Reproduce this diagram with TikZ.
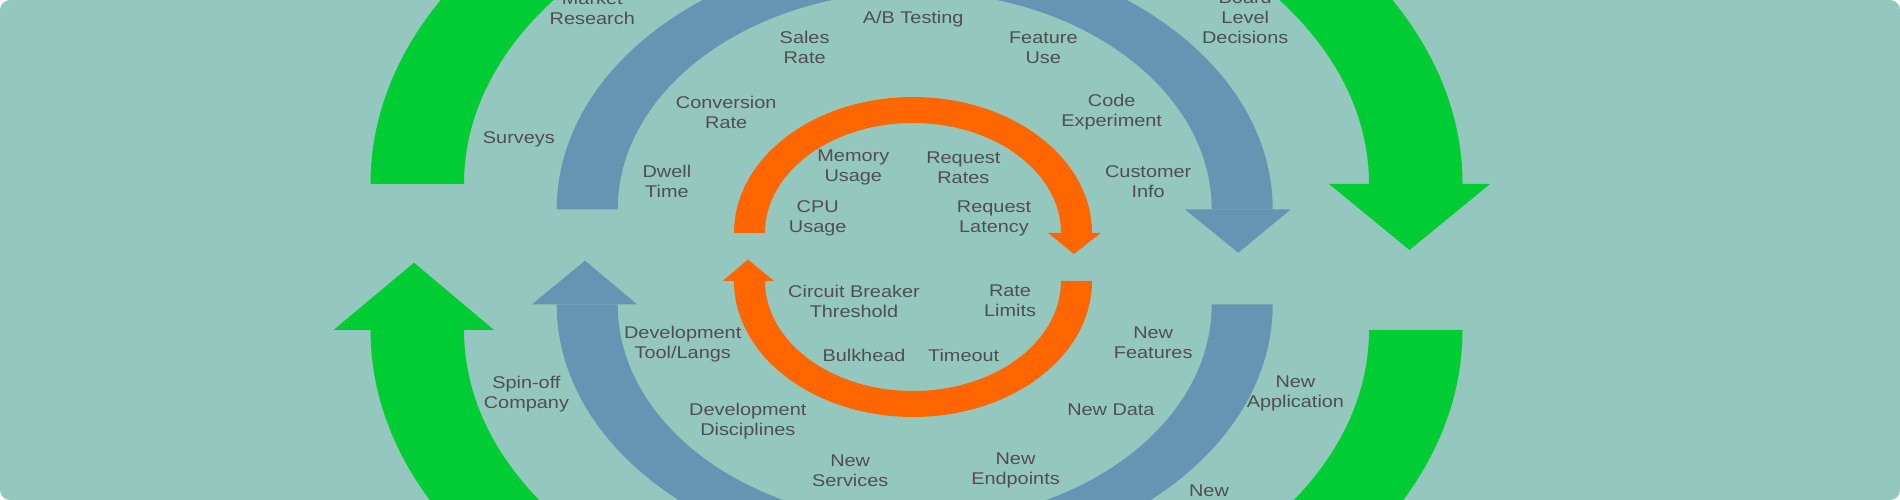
\documentclass[tikz,border=0pt]{standalone}
\usepackage{fontspec}
\setmainfont{Liberation Sans}
\definecolor{bgc}{HTML}{94C8BE}
\definecolor{grn}{HTML}{00CC33}
\definecolor{blu}{HTML}{6695B3}
\definecolor{org}{HTML}{FF6600}
\definecolor{txt}{HTML}{4F4F4F}
\tikzset{
  lbl/.style={font=\fontsize{17}{20}\selectfont, text=txt, align=center, inner sep=0pt, xscale=1.17},
}
\begin{document}
\begin{tikzpicture}[x=1pt,y=1pt]
\useasboundingbox (0,0) rectangle (1900,500);
\fill[white] (0,0) rectangle (1900,500);
\fill[bgc, rounded corners=10pt] (0,0) rectangle (1900,500);
\begin{scope}
\clip[rounded corners=10pt] (0,0) rectangle (1900,500);
% green ring
\fill[grn] (370.5,316) arc[start angle=180, end angle=0, x radius=546, y radius=375]
  -- (1369,316) arc[start angle=0, end angle=180, x radius=452.5, y radius=308] -- cycle;
\fill[grn] (1329,316) -- (1490,316) -- (1409.5,250) -- cycle;
\fill[grn] (1462.5,170) arc[start angle=0, end angle=-180, x radius=546, y radius=375]
  -- (464,170) arc[start angle=180, end angle=360, x radius=452.5, y radius=308] -- cycle;
\fill[grn] (333.5,170) -- (494,170) -- (414,237.3) -- cycle;
% blue ring
\fill[blu] (556.7,290.5) arc[start angle=180, end angle=0, x radius=358, y radius=260]
  -- (1211.7,290.5) arc[start angle=0, end angle=180, x radius=297, y radius=218] -- cycle;
\fill[blu] (1185,290.5) -- (1290.7,290.5) -- (1238.3,247.3) -- cycle;
\fill[blu] (1272.7,195.5) arc[start angle=0, end angle=-180, x radius=358, y radius=260]
  -- (617.7,195.5) arc[start angle=180, end angle=360, x radius=297, y radius=218] -- cycle;
\fill[blu] (531.7,195.5) -- (637.3,195.5) -- (585,239.3) -- cycle;
% orange ring
\fill[org] (734,267) arc[start angle=180, end angle=0, x radius=179, y radius=136]
  -- (1061,267) arc[start angle=0, end angle=180, x radius=148, y radius=110] -- cycle;
\fill[org] (1048,267) -- (1100.7,267) -- (1074,246) -- cycle;
\fill[org] (1092,219) arc[start angle=0, end angle=-180, x radius=179, y radius=136]
  -- (765,219) arc[start angle=180, end angle=360, x radius=148, y radius=110] -- cycle;
\fill[org] (722.7,219) -- (774,219) -- (748,240.5) -- cycle;
% labels
\node[lbl] (mr) at (592.3,491.7) {Market\\Research};
\node[lbl] (sv) at (518.9,360.7) {Surveys};
\node[lbl] (so) at (526.4,106.3) {Spin-off\\Company};
\node[lbl] (sr) at (804.6,452.7) {Sales\\Rate};
\node[lbl] (ab) at (913.2,480.7) {A/B Testing};
\node[lbl] (fu) at (1043.3,452.7) {Feature\\Use};
\node[lbl] (bl) at (1245.2,482.3) {Board\\Level\\Decisions};
\node[lbl] (cr) at (726.2,388) {Conversion\\Rate};
\node[lbl] (ce) at (1111.7,388) {Code\\Experiment};
\node[lbl] (dt) at (666.9,318.3) {Dwell\\Time};
\node[lbl] (ci) at (1148.2,318.3) {Customer\\Info};
\node[lbl] (mu) at (853.3,332.3) {Memory\\Usage};
\node[lbl] (rr) at (963.3,332.3) {Request\\Rates};
\node[lbl] (cpu) at (817.7,281.3) {CPU\\Usage};
\node[lbl] (rl) at (994,281.3) {Request\\Latency};
\node[lbl] (cb) at (854,199) {Circuit Breaker\\Threshold};
\node[lbl] (rlim) at (1010,199) {Rate\\Limits};
\node[lbl] (bh) at (864,144.7) {Bulkhead};
\node[lbl] (to) at (963.7,144.7) {Timeout};
\node[lbl] (dtl) at (682.7,156.3) {Development\\Tool/Langs};
\node[lbl] (nf) at (1153.2,157) {New\\Features};
\node[lbl] (dd) at (747.8,79.2) {Development\\Disciplines};
\node[lbl] (nd) at (1110.9,90) {New Data};
\node[lbl] (na) at (1295.4,107) {New\\Application};
\node[lbl] (ns) at (850.2,29) {New\\Services};
\node[lbl] (ne) at (1015.5,29.2) {New\\Endpoints};
\node[lbl] (nw) at (1209,9.3) {New};
\end{scope}
\end{tikzpicture}
\end{document}
